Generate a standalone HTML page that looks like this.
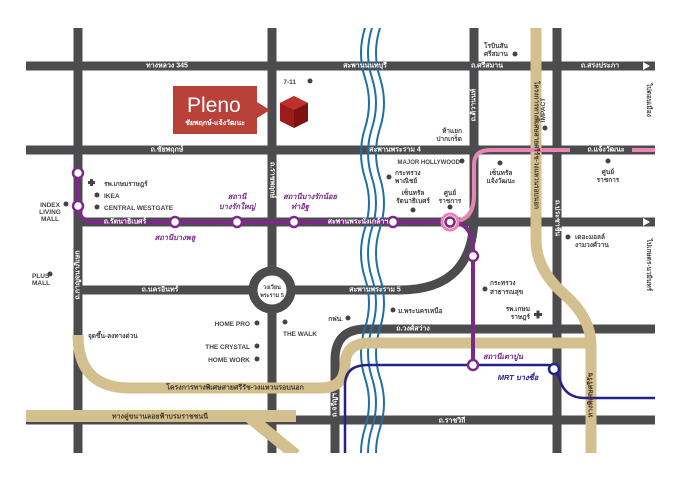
<!DOCTYPE html><html><head><meta charset="utf-8"><style>body{margin:0;background:#fff}svg{display:block}
text{font-family:"Liberation Sans","Noto Sans CJK SC",sans-serif;font-weight:bold}</style></head><body>
<svg width="680" height="496" viewBox="0 0 680 496">
<defs><clipPath id="c"><rect x="0" y="28" width="680" height="425"/></clipPath></defs>
<g clip-path="url(#c)">
<g stroke="#4c4c4e" stroke-width="9" fill="none">
<path d="M26 66H655M26 150H655M78 222H655M26 420H655"/>
<path d="M78 28V460M272 28V460M557 28V460"/>
<path d="M474 28V215Q474 290 400 290H78"/>
<path d="M335 460V360Q335 329 366 329H655"/>
<circle cx="272" cy="290" r="19" fill="#fff"/>
</g>
<g fill="none" stroke="#1f6fa6" stroke-width="2">
<path d="M365 28q-8 25 0 50t0 50t0 50t0 50t0 50t0 50t0 50t0 50t0 50"/>
<path d="M372 28q-8 25 0 50t0 50t0 50t0 50t0 50t0 50t0 50t0 50t0 50"/>
<path d="M380 28q-8 25 0 50t0 50t0 50t0 50t0 50t0 50t0 50t0 50t0 50"/>
</g>
<g stroke="#d4c08e" stroke-width="11" fill="none">
<path d="M536 28V240Q536 270 565 295Q591 318 591 345V460"/>
<path d="M591 343H370Q345 343 345 365Q345 388 320 388H130Q78 388 78 335"/>
<path d="M26 416H296M248 416L296 455" stroke-width="12"/>
</g>
<g fill="none" stroke="#25238a" stroke-width="2.5"><path d="M345 460V385Q345 365 368 365H548Q556 365 560 380Q565 398 585 398H655"/></g>
<g fill="none" stroke="#e985b3" stroke-width="4"><path d="M450 222Q474 222 474 195V165Q474 150 490 150H570M632 150H655"/></g>
<g fill="none" stroke="#7b2a88" stroke-width="4"><path d="M78 172V205Q78 222 95 222H450Q473 222 473 250V365"/></g>
<g fill="#fff" stroke="#7b2a88" stroke-width="2.5">
<circle cx="78" cy="173" r="5"/><circle cx="78" cy="206" r="5"/><circle cx="175" cy="222" r="5"/><circle cx="237" cy="222" r="5"/><circle cx="294" cy="222" r="5"/><circle cx="393" cy="222" r="5"/><circle cx="473" cy="256" r="5"/><circle cx="473" cy="365" r="5"/>
<circle cx="450" cy="222" r="8" stroke="#e985b3" stroke-width="3"/><circle cx="450" cy="222" r="4.5"/>
</g>
<circle cx="554" cy="369" r="5" fill="#fff" stroke="#25238a" stroke-width="2.5"/>
</g>
<g fill="#fff"><path d="M643 62l7 4-7 4zM643 218l7 4-7 4z"/></g>
<rect x="173" y="86" width="84" height="48" fill="#b8413a"/><path d="M257 102l13 8-13 8z" fill="#b8413a"/>
<text x="187" y="112" fill="#fff" font-size="21" style="font-weight:normal">Pleno</text>
<text x="215" y="125" fill="#fff" font-size="7" text-anchor="middle">ชัยพฤกษ์-แจ้งวัฒนะ</text>
<path d="M294 96l14 7v18l-14 7-14-7v-18z" fill="#9e1b1b"/><path d="M280 103l14 7 14-7-14-7z" fill="#c0302a"/><path d="M294 110v18l14-7v-18z" fill="#7d1212"/>
<g font-size="7" fill="#fff" text-anchor="middle" dominant-baseline="central">
<text x="167" y="66">ทางหลวง 345</text><text x="365" y="66">สะพานนนทบุรี</text><text x="487" y="66">ถ.ศรีสมาน</text><text x="600" y="66">ถ.สรงประภา</text>
<text x="167" y="150">ถ.ชัยพฤกษ์</text><text x="395" y="150">สะพานพระราม 4</text><text x="606" y="150">ถ.แจ้งวัฒนะ</text>
<text x="125" y="222">ถ.รัตนาธิเบศร์</text><text x="358" y="222">สะพานพระนั่งเกล้าฯ</text>
<text x="160" y="290">ถ.นครอินทร์</text><text x="375" y="290">สะพานพระราม 5</text>
<text x="413" y="329">ถ.วงศ์สว่าง</text><text x="452" y="421">ถ.ราชวิถี</text>
<text transform="translate(272,180) rotate(90)">ถ.ราชพฤกษ์</text><text transform="translate(78,275) rotate(-90)">ถ.กาญจนาภิเษก</text>
<text transform="translate(474,105) rotate(-90)">ถ.ติวานนท์</text><text transform="translate(557,218) rotate(90)">ถ.ประชาชื่น</text>
<text transform="translate(335,405) rotate(-90)">ถ.จรัญฯ</text>
</g>
<g font-size="7" fill="#3e3a2e" text-anchor="middle" dominant-baseline="central">
<text x="235" y="388">โครงการทางพิเศษสายศรีรัช-วงแหวนรอบนอก</text><text x="160" y="417">ทางคู่ขนานลอยฟ้าบรมราชชนนี</text>
<text transform="translate(536,145) rotate(90)" font-size="6.5">โครงการทางพิเศษสายศรีรัช-วงแหวนรอบนอก</text>
<text transform="translate(591,395) rotate(-90)">ทางพิเศษศรีรัช</text>
</g>
<g font-size="6.5" fill="#444">
<text x="647" y="100" text-anchor="middle" transform="rotate(90 647 100)">ไปดอนเมือง</text>
<text x="647" y="265" text-anchor="middle" transform="rotate(90 647 265)">ไปเกษตร-นวมินทร์</text>
<text x="545" y="110" text-anchor="middle" transform="rotate(-90 545 110)">IMPACT</text>
<text x="272" y="289" text-anchor="middle" font-size="5.5">วงเวียน</text><text x="272" y="297" text-anchor="middle" font-size="5.5">พระราม 5</text>
<text x="296" y="84" text-anchor="end">7-11</text>
<text x="104" y="186">รพ.เกษมราษฎร์</text><text x="104" y="198">IKEA</text><text x="104" y="210">CENTRAL WESTGATE</text>
<text x="50" y="207" text-anchor="middle">INDEX</text><text x="50" y="214" text-anchor="middle">LIVING</text><text x="50" y="221" text-anchor="middle">MALL</text>
<text x="32" y="278">PLUS</text><text x="32" y="285">MALL</text>
<text x="250" y="326" text-anchor="end">HOME PRO</text><text x="283" y="336">THE WALK</text><text x="250" y="349" text-anchor="end">THE CRYSTAL</text><text x="250" y="362" text-anchor="end">HOME WORK</text>
<text x="343" y="321" text-anchor="end">กฟน.</text><text x="398" y="313">ม.พระนครเหนือ</text>
<text x="490" y="285">กระทรวง</text><text x="490" y="294">สาธารณสุข</text>
<text x="530" y="311" text-anchor="end">รพ.เกษม</text><text x="530" y="319" text-anchor="end">ราษฎร์</text>
<text x="88" y="338">จุดขึ้น-ลงทางด่วน</text>
<text x="484" y="48">โรบินสัน</text><text x="484" y="56">ศรีสมาน</text>
<text x="462" y="133" text-anchor="end">ห้าแยก</text><text x="462" y="141" text-anchor="end">ปากเกร็ด</text>
<text x="460" y="164" text-anchor="end" font-size="6">MAJOR HOLLYWOOD</text>
<text x="395" y="175">กระทรวง</text><text x="395" y="183">พาณิชย์</text>
<text x="413" y="195" text-anchor="middle">เซ็นทรัล</text><text x="413" y="203" text-anchor="middle">รัตนาธิเบศร์</text>
<text x="450" y="195" text-anchor="middle">ศูนย์</text><text x="450" y="203" text-anchor="middle">ราชการ</text>
<text x="501" y="175" text-anchor="middle">เซ็นทรัล</text><text x="501" y="183" text-anchor="middle">แจ้งวัฒนะ</text>
<text x="608" y="174" text-anchor="middle">ศูนย์</text><text x="608" y="182" text-anchor="middle">ราชการ</text>
<text x="575" y="239">เดอะมอลล์</text><text x="575" y="247">งามวงศ์วาน</text>
</g>
<g fill="#444"><circle cx="310" cy="81" r="2.5"/><circle cx="97" cy="195" r="2.5"/><circle cx="97" cy="207" r="2.5"/><circle cx="66" cy="204" r="2.5"/><circle cx="50" cy="274" r="2.5"/><circle cx="257" cy="323" r="2.5"/><circle cx="285" cy="322" r="2.5"/><circle cx="257" cy="346" r="2.5"/><circle cx="257" cy="359" r="2.5"/><circle cx="348" cy="318" r="2.5"/><circle cx="393" cy="310" r="2.5"/><circle cx="485" cy="289" r="2.5"/><circle cx="515" cy="54" r="2.5"/><circle cx="545" cy="128" r="2.5"/><circle cx="462" cy="161" r="2.5"/><circle cx="389" cy="177" r="2.5"/><circle cx="413" cy="210" r="2.5"/><circle cx="450" cy="207" r="2.5"/><circle cx="500" cy="163" r="2.5"/><circle cx="608" cy="161" r="2.5"/><circle cx="568" cy="237" r="2.5"/>
<path d="M88 181h7v3h-7zM90 179h3v7h-3zM534 313h8v3h-8zM536.5 310.5h3v8h-3z"/></g>
<g font-size="7.5" fill="#7b2a88" font-style="italic" text-anchor="middle">
<text x="175" y="240">สถานีบางพลู</text><text x="237" y="199">สถานี</text><text x="237" y="209">บางรักใหญ่</text>
<text x="310" y="199">สถานีบางรักน้อย</text><text x="300" y="209">ท่าอิฐ</text><text x="503" y="359">สถานีเตาปูน</text>
</g>
<text x="518" y="380" font-size="7.5" fill="#25238a" font-style="italic" text-anchor="middle">MRT บางซื่อ</text>
</svg></body></html>
